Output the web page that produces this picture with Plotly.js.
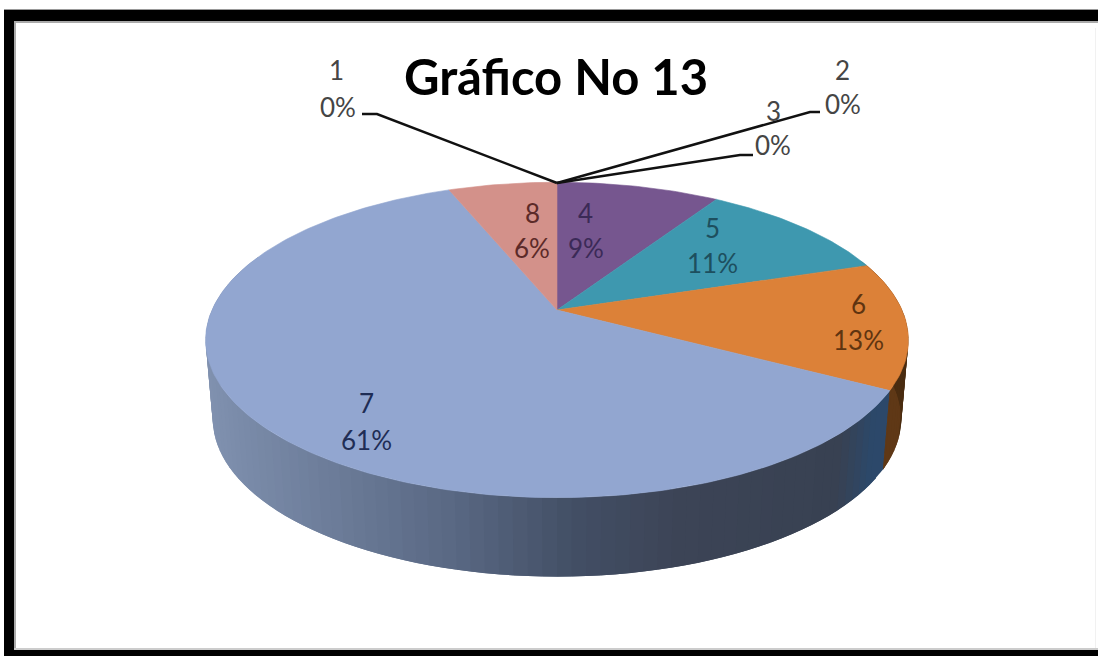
<!DOCTYPE html>
<html>
<head>
<meta charset="utf-8">
<script src="https://cdn.plot.ly/plotly-3.0.1.min.js"></script>
<style>html,body{margin:0;padding:0;background:#fff}#c{width:1098px;height:656px}</style>
</head>
<body>
<div id="c"></div>
<script>
// Data
const categories = ['1','2','3','4','5','6','7','8'];
const shares = [0,0,0,9,11,13,61,6];
const topColors = ['#4f81bd','#c0504d','#9bbb59','#76568f','#3e98af','#dc8138','#92a6d0','#d3918a'];
const titleText = 'Gráfico No 13';

// Label anchor pixels: [name x, name y, percent x, percent y]
const labelAnchors = [
  [336,70,338,107],[842,70,843,104],[773,111,773,145],
  [585,213,586,248],[712,228,712,263],[858,304,858,340],
  [366,403,366,440],[532,213,532,248]
];
const labelColors = ['#454545','#454545','#454545','#3b2a57','#1d4f5e','#5f3410','#1f2d55','#5c2a28'];

// Projection of the tilted disc
const P = 0.19;
const topDisc = {x0:557, y0:310, w:345, h:152};
const baseDisc = {x0:557, y0:389, w:338, h:152};
function proj(d, deg){
  const r = deg*Math.PI/180, c = Math.cos(r), s = Math.sin(r), k = 1+P*c;
  return [d.x0 + d.w*s/k, d.y0 - d.h*c/k];
}

// Wall shading along x
const wallStops = [[215,[128,145,175]],[350,[108,124,153]],[480,[88,103,130]],[600,[66,78,100]],[700,[60,68,86]],[850,[56,65,82]],[880,[44,72,106]],[900,[44,72,106]]];
function wallColor(x){
  for(let i=0;i<wallStops.length-1;i++){
    const a=wallStops[i], b=wallStops[i+1];
    if(x<=b[0]){
      const t=Math.max(0,(x-a[0])/(b[0]-a[0]));
      return 'rgb('+a[1].map((v,j)=>Math.round(v+(b[1][j]-v)*t)).join(',')+')';
    }
  }
  return 'rgb(44,72,106)';
}

const traces = [];
function poly(pts, color, w){
  traces.push({type:'scatter',mode:'lines',x:pts.map(p=>p[0]),y:pts.map(p=>p[1]),
    fill:'toself',fillcolor:color,line:{color:color,width:w},hoverinfo:'skip',showlegend:false});
}

// slice angle boundaries from the shares
const total = shares.reduce((a,b)=>a+b,0);
const bounds = [0];
shares.forEach(v=>bounds.push(bounds[bounds.length-1]+v/total*360));

// Side wall (strips overlap so no seams show; the overlap stays inside the visible arc)
const brownTo = bounds[6];
for(let a=288;a>=70;a-=2){
  const s=(a>=brownTo && a-2<brownTo) ? brownTo-0.3 : a;
  const b=a<brownTo ? Math.min(a+4,brownTo) : a+4;
  const t1=proj(topDisc,s),t2=proj(topDisc,b),b1=proj(baseDisc,s),b2=proj(baseDisc,b);
  const mx=(t1[0]+b1[0])/2;
  const col = a<brownTo ? (a<brownTo-14?'#4a2c10':'#5f3816') : wallColor(mx);
  poly([t1,t2,b2,b1,t1],col,0);
}

// Top faces
shares.forEach((v,i)=>{
  if(v<=0) return;
  const pts=[[topDisc.x0,topDisc.y0]];
  for(let a=bounds[i];a<bounds[i+1];a+=1) pts.push(proj(topDisc,a));
  pts.push(proj(topDisc,bounds[i+1]));
  pts.push([topDisc.x0,topDisc.y0]);
  poly(pts,topColors[i],0.6);
});

// Leader lines for the empty slices
const leaders = [
  [[362,114],[377,114],[557,183]],
  [[820,112],[810,112],[557,183]],
  [[753,155],[740,155],[557,183]]
];
leaders.forEach(l=>traces.push({type:'scatter',mode:'lines',x:l.map(p=>p[0]),y:l.map(p=>p[1]),
  line:{color:'#111',width:2.5},hoverinfo:'skip',showlegend:false}));

// Labels
const annotations = [];
categories.forEach((c,i)=>{
  const a=labelAnchors[i];
  const f={family:'Lato, Carlito, sans-serif',size:26,color:labelColors[i]};
  annotations.push({x:a[0],y:a[1],xref:'x',yref:'y',text:c,showarrow:false,xanchor:'center',yanchor:'middle',font:f});
  annotations.push({x:a[2],y:a[3],xref:'x',yref:'y',text:shares[i]+'%',showarrow:false,xanchor:'center',yanchor:'middle',font:f});
});

// Frame
const bar=(x0,y0,x1,y1,c)=>({type:'rect',xref:'x',yref:'y',x0,y0,x1,y1,fillcolor:c,line:{width:0},layer:'below'});
const shapes=[
  bar(4,9,1098,11,'#999'),
  bar(14,21,1098,23,'#aaa'),
  bar(14,21,16,650,'#aaa'),
  bar(14,648,1098,650,'#ccc'),
  bar(1095,28,1096,648,'#f1f1f1'),
  bar(4,10,14,656,'#000'),
  bar(4,10,1098,21,'#000'),
  bar(4,650,1098,656,'#000')
];

const layout={
  width:1098,height:656,margin:{l:0,r:0,t:0,b:0},
  paper_bgcolor:'#fff',plot_bgcolor:'#fff',showlegend:false,
  xaxis:{range:[0,1098],visible:false,fixedrange:true},
  yaxis:{range:[656,0],visible:false,fixedrange:true},
  title:{text:'<b>'+titleText+'</b>',x:556/1098,y:1-78/656,xanchor:'center',yanchor:'middle',
    automargin:false,font:{family:'Lato, Carlito, sans-serif',size:49,color:'#000'}},
  shapes,annotations
};
Plotly.newPlot('c',traces,layout,{displayModeBar:false,staticPlot:true});
</script>
</body>
</html>
